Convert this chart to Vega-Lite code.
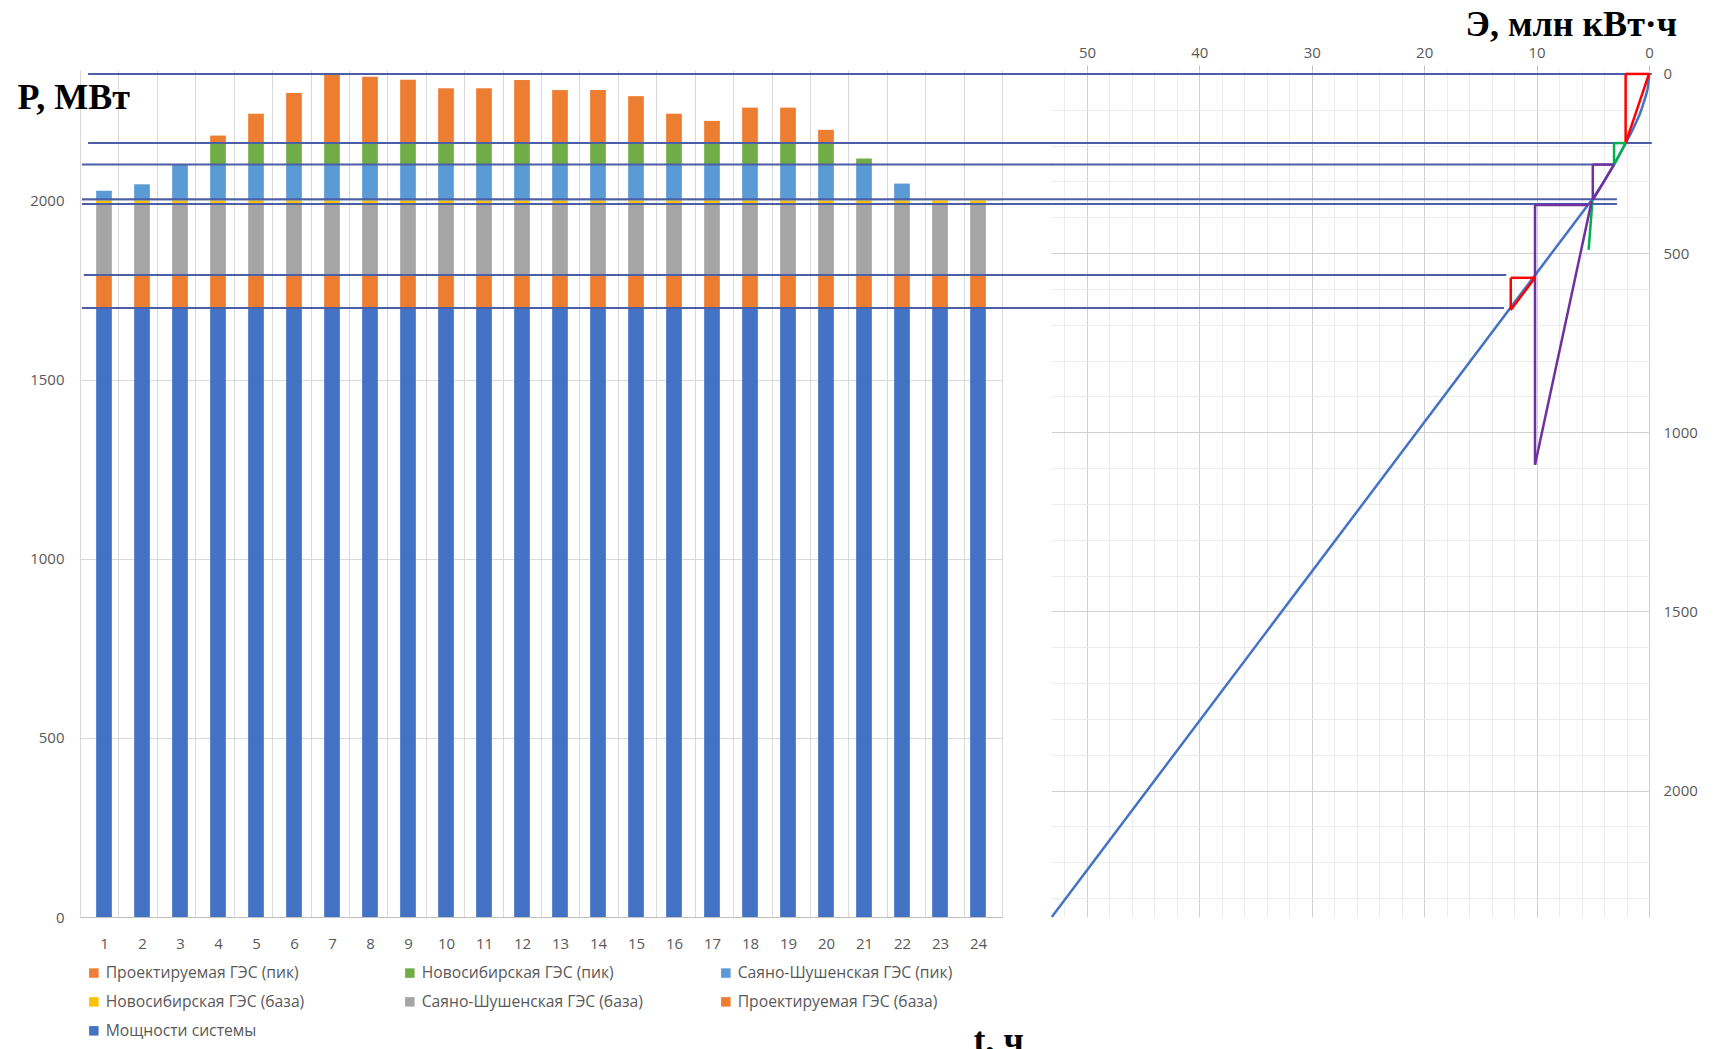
{
  "$schema": "https://vega.github.io/schema/vega-lite/v6.json",
  "background": "white",
  "padding": {"left": 17, "top": 6, "right": 0, "bottom": 0},
  "spacing": 49,
  "bounds": "flush",
  "resolve": {"scale": {"color": "independent"}, "legend": {"color": "independent"}},
  "config": {
    "view": {"stroke": null},
    "axis": {
      "labelFont": "Open Sans",
      "labelFontSize": 15,
      "labelColor": "#595959",
      "titleFont": "Liberation Serif",
      "titleFontWeight": "bold",
      "titleFontSize": 36,
      "titleColor": "#000000",
      "labelOverlap": false,
      "labelFlush": false
    }
  },
  "datasets": {
    "load": [
      {"h": 1, "sys": 1700, "pb": 93, "sb": 198, "nb": 9, "sp": 27, "np": 0, "pp": 0},
      {"h": 2, "sys": 1700, "pb": 93, "sb": 198, "nb": 9, "sp": 45, "np": 0, "pp": 0},
      {"h": 3, "sys": 1700, "pb": 93, "sb": 198, "nb": 9, "sp": 100, "np": 0, "pp": 0},
      {"h": 4, "sys": 1700, "pb": 93, "sb": 198, "nb": 9, "sp": 100, "np": 60, "pp": 21},
      {"h": 5, "sys": 1700, "pb": 93, "sb": 198, "nb": 9, "sp": 100, "np": 60, "pp": 82},
      {"h": 6, "sys": 1700, "pb": 93, "sb": 198, "nb": 9, "sp": 100, "np": 60, "pp": 140},
      {"h": 7, "sys": 1700, "pb": 93, "sb": 198, "nb": 9, "sp": 100, "np": 60, "pp": 193},
      {"h": 8, "sys": 1700, "pb": 93, "sb": 198, "nb": 9, "sp": 100, "np": 60, "pp": 185},
      {"h": 9, "sys": 1700, "pb": 93, "sb": 198, "nb": 9, "sp": 100, "np": 60, "pp": 177},
      {"h": 10, "sys": 1700, "pb": 93, "sb": 198, "nb": 9, "sp": 100, "np": 60, "pp": 153},
      {"h": 11, "sys": 1700, "pb": 93, "sb": 198, "nb": 9, "sp": 100, "np": 60, "pp": 153},
      {"h": 12, "sys": 1700, "pb": 93, "sb": 198, "nb": 9, "sp": 100, "np": 60, "pp": 176},
      {"h": 13, "sys": 1700, "pb": 93, "sb": 198, "nb": 9, "sp": 100, "np": 60, "pp": 148},
      {"h": 14, "sys": 1700, "pb": 93, "sb": 198, "nb": 9, "sp": 100, "np": 60, "pp": 148},
      {"h": 15, "sys": 1700, "pb": 93, "sb": 198, "nb": 9, "sp": 100, "np": 60, "pp": 131},
      {"h": 16, "sys": 1700, "pb": 93, "sb": 198, "nb": 9, "sp": 100, "np": 60, "pp": 82},
      {"h": 17, "sys": 1700, "pb": 93, "sb": 198, "nb": 9, "sp": 100, "np": 60, "pp": 62},
      {"h": 18, "sys": 1700, "pb": 93, "sb": 198, "nb": 9, "sp": 100, "np": 60, "pp": 99},
      {"h": 19, "sys": 1700, "pb": 93, "sb": 198, "nb": 9, "sp": 100, "np": 60, "pp": 99},
      {"h": 20, "sys": 1700, "pb": 93, "sb": 198, "nb": 9, "sp": 100, "np": 60, "pp": 37},
      {"h": 21, "sys": 1700, "pb": 93, "sb": 198, "nb": 9, "sp": 100, "np": 17, "pp": 0},
      {"h": 22, "sys": 1700, "pb": 93, "sb": 198, "nb": 9, "sp": 47, "np": 0, "pp": 0},
      {"h": 23, "sys": 1700, "pb": 93, "sb": 198, "nb": 9, "sp": 0, "np": 0, "pp": 0},
      {"h": 24, "sys": 1700, "pb": 93, "sb": 198, "nb": 9, "sp": 0, "np": 0, "pp": 0}
    ],
    "series": [
      {"key": "sys", "name": "Мощности системы", "k": 1},
      {"key": "pb", "name": "Проектируемая ГЭС (база)", "k": 2},
      {"key": "sb", "name": "Саяно-Шушенская ГЭС (база)", "k": 3},
      {"key": "nb", "name": "Новосибирская ГЭС (база)", "k": 4},
      {"key": "sp", "name": "Саяно-Шушенская ГЭС (пик)", "k": 5},
      {"key": "np", "name": "Новосибирская ГЭС (пик)", "k": 6},
      {"key": "pp", "name": "Проектируемая ГЭС (пик)", "k": 7}
    ],
    "levels": [
      {"P": 2353, "Y": 0, "h0": 0.71, "h1": 25.79, "E0": 53.2, "Eend": -0.25},
      {"P": 2160, "Y": 193, "h0": 0.71, "h1": 25.79, "E0": 53.2, "Eend": -0.25},
      {"P": 2100, "Y": 253, "h0": 0.55, "h1": 25.79, "E0": 53.2, "Eend": 3.11},
      {"P": 2003, "Y": 350, "h0": 0.55, "h1": 25.79, "E0": 53.2, "Eend": 2.85},
      {"P": 1990, "Y": 363, "h0": 0.55, "h1": 25.79, "E0": 53.2, "Eend": 2.85},
      {"P": 1792, "Y": 561, "h0": 0.6, "h1": 25.79, "E0": 53.2, "Eend": 12.7},
      {"P": 1700, "Y": 653, "h0": 0.55, "h1": 25.79, "E0": 53.2, "Eend": 12.9}
    ],
    "curve": [
      {"E": 0, "Y": 0}, {"E": 0.008, "Y": 8}, {"E": 0.024, "Y": 16}, {"E": 0.027, "Y": 17},
      {"E": 0.119, "Y": 40}, {"E": 0.149, "Y": 45}, {"E": 0.213, "Y": 53}, {"E": 0.294, "Y": 62},
      {"E": 0.614, "Y": 94}, {"E": 0.808, "Y": 111}, {"E": 1.088, "Y": 131}, {"E": 1.463, "Y": 156},
      {"E": 1.719, "Y": 172}, {"E": 2.807, "Y": 236}, {"E": 3.113, "Y": 253}, {"E": 4.12, "Y": 306},
      {"E": 4.16, "Y": 308}, {"E": 4.538, "Y": 326}, {"E": 5.13, "Y": 353}, {"E": 53.13, "Y": 2353}
    ],
    "segs": [
      {"g": "proj", "E1": 0, "Y1": 0, "E2": 2.08, "Y2": 0},
      {"g": "proj", "E1": 2.08, "Y1": 0, "E2": 2.08, "Y2": 193},
      {"g": "proj", "E1": 0, "Y1": 0, "E2": 2.08, "Y2": 193},
      {"g": "novo", "E1": 2.08, "Y1": 193, "E2": 3.11, "Y2": 193},
      {"g": "novo", "E1": 3.11, "Y1": 193, "E2": 3.11, "Y2": 253},
      {"g": "novo", "E1": 2.08, "Y1": 193, "E2": 3.11, "Y2": 253},
      {"g": "sayano", "E1": 3.11, "Y1": 253, "E2": 5.0, "Y2": 253},
      {"g": "sayano", "E1": 5.0, "Y1": 253, "E2": 5.0, "Y2": 352},
      {"g": "sayano", "E1": 3.11, "Y1": 253, "E2": 5.0, "Y2": 352},
      {"g": "novo", "E1": 5.03, "Y1": 352, "E2": 5.37, "Y2": 491},
      {"g": "sayano", "E1": 5.4, "Y1": 366, "E2": 10.14, "Y2": 366},
      {"g": "sayano", "E1": 10.14, "Y1": 366, "E2": 10.14, "Y2": 1091},
      {"g": "sayano", "E1": 10.14, "Y1": 1091, "E2": 5.1, "Y2": 355},
      {"g": "proj", "E1": 10.14, "Y1": 569, "E2": 12.3, "Y2": 569},
      {"g": "proj", "E1": 12.3, "Y1": 569, "E2": 12.3, "Y2": 659},
      {"g": "proj", "E1": 12.3, "Y1": 659, "E2": 10.14, "Y2": 569}
    ]
  },
  "hconcat": [
    {
      "width": 922,
      "height": 847,
      "resolve": {"scale": {"x": "independent"}, "axis": {"x": "independent"}},
      "layer": [
        {
          "data": {"name": "load"},
          "transform": [
            {"fold": ["sys", "pb", "sb", "nb", "sp", "np", "pp"], "as": ["key", "value"]},
            {"lookup": "key", "from": {"data": {"name": "series"}, "key": "key", "fields": ["name", "k"]}}
          ],
          "mark": {"type": "bar", "width": 15.7},
          "encoding": {
            "x": {
              "field": "h", "type": "quantitative",
              "scale": {"domain": [0.5, 24.5], "nice": false, "zero": false},
              "axis": {
                "orient": "bottom",
                "values": [1, 2, 3, 4, 5, 6, 7, 8, 9, 10, 11, 12, 13, 14, 15, 16, 17, 18, 19, 20, 21, 22, 23, 24],
                "format": "d",
                "labelOverlap": false,
                "ticks": false,
                "grid": false,
                "domainColor": "#bfbfbf",
                "labelPadding": 19,
                "title": "t, ч",
                "titleAngle": 0,
                "titleAlign": "left",
                "titleBaseline": "alphabetic",
                "titleX": 893,
                "titleY": 134
              }
            },
            "y": {
              "field": "value", "type": "quantitative", "stack": "zero",
              "scale": {"domain": [0, 2364], "nice": false},
              "axis": {
                "values": [0, 500, 1000, 1500, 2000],
                "format": "d",
                "labelOverlap": false,
                "ticks": false,
                "domain": false,
                "grid": true,
                "gridColor": "#d9d9d9",
                "labelPadding": 16,
                "title": "P, МВт",
                "titleAngle": 0,
                "titleAlign": "left",
                "titleBaseline": "alphabetic",
                "titleX": -63,
                "titleY": 38
              }
            },
            "color": {
              "field": "name", "type": "nominal",
              "scale": {
                "domain": ["Проектируемая ГЭС (пик)", "Новосибирская ГЭС (пик)", "Саяно-Шушенская ГЭС (пик)", "Новосибирская ГЭС (база)", "Саяно-Шушенская ГЭС (база)", "Проектируемая ГЭС (база)", "Мощности системы"],
                "range": ["#ED7D31", "#70AD47", "#5B9BD5", "#FFC000", "#A5A5A5", "#ED7D31", "#4472C4"]
              },
              "legend": {
                "orient": "none",
                "direction": "horizontal",
                "legendX": 6,
                "legendY": 895,
                "columns": 3,
                "title": null,
                "padding": 0,
                "symbolType": "square",
                "symbolSize": 90,
                "symbolStrokeWidth": 0,
                "labelFont": "Open Sans",
                "labelFontSize": 15.7,
                "labelColor": "#595959",
                "labelLimit": 400,
                "gridAlign": "all",
                "columnPadding": 75,
                "rowPadding": 12
              }
            },
            "order": {"field": "k", "type": "quantitative"}
          }
        },
        {
          "data": {"name": "levels"},
          "mark": {"type": "rule", "color": "#4b5ea6", "strokeWidth": 2},
          "encoding": {
            "x": {
              "field": "h0", "type": "quantitative",
              "scale": {"domain": [0.5, 24.5], "nice": false, "zero": false},
              "axis": {
                "orient": "top",
                "values": [0.5, 1.5, 2.5, 3.5, 4.5, 5.5, 6.5, 7.5, 8.5, 9.5, 10.5, 11.5, 12.5, 13.5, 14.5, 15.5, 16.5, 17.5, 18.5, 19.5, 20.5, 21.5, 22.5, 23.5, 24.5],
                "labels": false,
                "ticks": false,
                "domain": false,
                "grid": true,
                "gridColor": "#d9d9d9",
                "title": null
              }
            },
            "x2": {"field": "h1"},
            "y": {"field": "P", "type": "quantitative"}
          }
        }
      ]
    },
    {
      "width": 598,
      "height": 847,
      "resolve": {"scale": {"x": "independent", "y": "independent"}, "axis": {"x": "independent", "y": "independent"}},
      "layer": [
        {
          "data": {"name": "curve"},
          "mark": {"type": "line", "color": "#4472C4", "strokeWidth": 2.5},
          "encoding": {
            "x": {
              "field": "E", "type": "quantitative",
              "scale": {"domain": [0, 53.2], "reverse": true, "nice": false, "zero": false},
              "axis": {
                "orient": "top",
                "values": [0, 10, 20, 30, 40, 50],
                "format": "d",
                "labelOverlap": false,
                "grid": true,
                "gridColor": "#d0d0d0",
                "domain": false,
                "ticks": true,
                "tickSize": 5,
                "tickColor": "#bfbfbf",
                "labelPadding": 5,
                "title": "Э, млн кВт·ч",
                "titleAngle": 0,
                "titleAlign": "left",
                "titleBaseline": "alphabetic",
                "titleX": 414,
                "titleY": -35
              }
            },
            "y": {
              "field": "Y", "type": "quantitative",
              "scale": {"domain": [-11, 2353], "reverse": true, "nice": false, "zero": false},
              "axis": {
                "orient": "right",
                "values": [0, 500, 1000, 1500, 2000],
                "format": "d",
                "labelOverlap": false,
                "grid": true,
                "gridColor": "#d0d0d0",
                "domain": false,
                "ticks": false,
                "labelPadding": 14,
                "title": null
              }
            }
          }
        },
        {
          "data": {"name": "levels"},
          "mark": {"type": "rule", "color": "#4b5ea6", "strokeWidth": 2},
          "encoding": {
            "x": {
              "field": "E0", "type": "quantitative",
              "scale": {"domain": [0, 53.2], "reverse": true, "nice": false, "zero": false},
              "axis": {
                "orient": "bottom",
                "values": [2, 4, 6, 8, 12, 14, 16, 18, 22, 24, 26, 28, 32, 34, 36, 38, 42, 44, 46, 48, 52],
                "labels": false,
                "ticks": false,
                "domain": false,
                "grid": true,
                "gridColor": "#ececec",
                "title": null
              }
            },
            "x2": {"field": "Eend"},
            "y": {
              "field": "Y", "type": "quantitative",
              "scale": {"domain": [-11, 2353], "reverse": true, "nice": false, "zero": false},
              "axis": {
                "orient": "left",
                "values": [100, 200, 300, 400, 600, 700, 800, 900, 1100, 1200, 1300, 1400, 1600, 1700, 1800, 1900, 2100, 2200, 2300],
                "labels": false,
                "ticks": false,
                "domain": false,
                "grid": true,
                "gridColor": "#ececec",
                "title": null
              }
            }
          }
        },
        {
          "data": {"name": "segs"},
          "mark": {"type": "rule", "strokeWidth": 2.5},
          "encoding": {
            "x": {
              "field": "E1", "type": "quantitative",
              "scale": {"domain": [0, 53.2], "reverse": true, "nice": false, "zero": false},
              "axis": null
            },
            "x2": {"field": "E2"},
            "y": {
              "field": "Y1", "type": "quantitative",
              "scale": {"domain": [-11, 2353], "reverse": true, "nice": false, "zero": false},
              "axis": null
            },
            "y2": {"field": "Y2"},
            "color": {
              "field": "g", "type": "nominal",
              "scale": {"domain": ["proj", "novo", "sayano"], "range": ["#FF0000", "#00B050", "#7030A0"]},
              "legend": null
            }
          }
        }
      ]
    }
  ]
}
